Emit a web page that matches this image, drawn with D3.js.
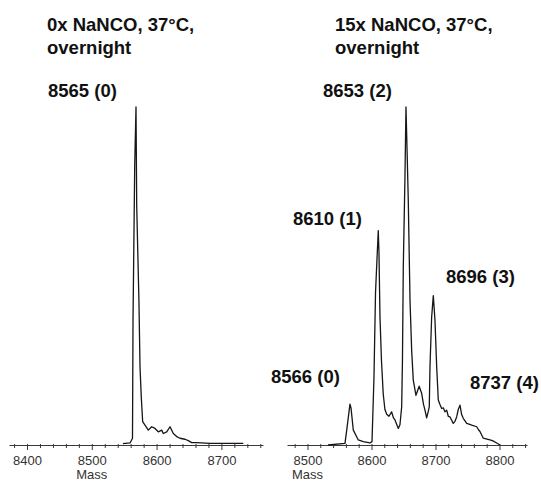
<!DOCTYPE html>
<html>
<head>
<meta charset="utf-8">
<script src="https://cdn.jsdelivr.net/npm/d3@7"></script>
<style>
  html, body { margin: 0; padding: 0; background: #fff; }
  svg { display: block; }
  text { font-family: "Liberation Sans", Arial, sans-serif; }
</style>
</head>
<body>
<svg id="chart" width="541" height="481"></svg>
<script>
// ---------- DATA ----------
const leftTitle = ["0x NaNCO, 37\u00B0C,", "overnight"];
const rightTitle = ["15x NaNCO, 37\u00B0C,", "overnight"];
const axisLabel = "Mass";

const leftTicks = [8400, 8500, 8600, 8700];
const rightTicks = [8500, 8600, 8700, 8800];

const leftMass = [8548, 8559, 8562.8, 8563.6, 8566.2, 8568.2, 8569.3, 8572.8, 8574.4, 8576.4,
  8578.5, 8582.1, 8587.2, 8592.4, 8597.5, 8602.6, 8607.9, 8610.3, 8615.6, 8620.7,
  8625.8, 8631, 8636.1, 8643.8, 8648.9, 8654.2, 8661.9, 8682.4, 8733.8];
const leftIntensity = [0.4, 0.6, 2, 37, 82.6, 100, 70.8, 41.9, 23, 14,
  6.9, 5.9, 4.4, 5.4, 4.9, 3.9, 4.4, 3.4, 3.9, 5.4,
  3.4, 2.5, 2.0, 1.7, 1.3, 0.7, 0.7, 0.5, 0.5];

const rightMass = [8532, 8558.6, 8561.7, 8566.4, 8568, 8571.6, 8579.4, 8587.2, 8597.7, 8600.8,
  8603.9, 8606.3, 8608.6, 8610.6, 8611.7, 8613.3, 8615.6, 8618.4, 8621, 8623.8,
  8627.3, 8631.5, 8634.4, 8636.7, 8641.9, 8644.5, 8647.2, 8648.4, 8649.7, 8652.3,
  8653.9, 8655.5, 8657.5, 8660.2, 8662.8, 8665.3, 8669.5, 8671.9, 8674.5, 8678.4,
  8681.3, 8683.6, 8686.2, 8688.8, 8690.3, 8691.4, 8694, 8696.6, 8699.2, 8701.9,
  8704.4, 8707, 8709.7, 8712.2, 8714.8, 8717.5, 8720, 8722.7, 8727.8, 8730.5,
  8733.1, 8735.6, 8738.3, 8740.9, 8743.4, 8748.8, 8752.3, 8756.6, 8764.4, 8767.2,
  8769.5, 8774.7, 8778.9, 8785.2, 8789.8, 8795.6, 8800.8];
const rightIntensity = [0, 0.5, 5, 12.1, 11, 4.4, 1.5, 1.0, 0.6, 1,
  20, 45, 55, 63.4, 57, 37.8, 25, 15, 10.5, 9.1,
  8.5, 9.8, 8, 7.4, 4.9, 6, 11.3, 25, 52.6, 79.1,
  100, 88, 72.3, 42.8, 28, 19.2, 14.7, 16, 17.4, 15.3,
  12, 10.3, 8.0, 10, 11.3, 23.1, 37.8, 44.2, 36.9, 23.1,
  13.3, 12, 10.8, 11, 9.8, 10.3, 8.5, 8.3, 6.4, 7,
  8.3, 10.5, 11.8, 9, 7.9, 6.4, 6.2, 5.9, 5.4, 4.5,
  4, 2, 1.8, 1.5, 1.2, 0.6, 0];

const leftLabels = ["8565 (0)"];
const rightLabels = ["8566 (0)", "8610 (1)", "8653 (2)", "8696 (3)", "8737 (4)"];

// ---------- LAYOUT ----------
const svg = d3.select("#chart");
const baseY = 445;
const y = d3.scaleLinear().domain([0, 100]).range([baseY, 107]);

const panels = [
  { title: leftTitle, titleX: 47, mass: leftMass, inten: leftIntensity, ticks: leftTicks,
    domain: [8372.2, 8764.2], range: [9, 263], axisLabelAt: 8500,
    labels: leftLabels, labelPos: [[48, 97]] },
  { title: rightTitle, titleX: 335, mass: rightMass, inten: rightIntensity, ticks: rightTicks,
    domain: [8468, 8843], range: [287, 527], axisLabelAt: 8500,
    labels: rightLabels, labelPos: [[271, 383], [293, 225], [323, 97], [446, 283], [470, 389]] }
];

const boldFont = "18.5px";

panels.forEach(p => {
  const x = d3.scaleLinear().domain(p.domain).range(p.range);
  const g = svg.append("g");

  // minor + major ticks every 20
  const tickVals = d3.range(Math.ceil(p.domain[0] / 20) * 20, p.domain[1], 20);
  const axis = d3.axisBottom(x).tickValues(tickVals).tickSizeOuter(0)
    .tickFormat(d => p.ticks.includes(d) ? d : "");
  const ag = g.append("g").attr("transform", `translate(0,${baseY})`).call(axis);
  ag.select(".domain").attr("stroke", "#3a3a3a").attr("stroke-width", 1);
  ag.selectAll(".tick line")
    .attr("stroke", "#3a3a3a")
    .attr("y1", -1)
    .attr("y2", d => p.ticks.includes(d) ? 5 : 3);
  ag.selectAll(".tick text")
    .attr("y", 20).attr("dy", 0)
    .attr("fill", "#333")
    .style("font-size", "13px")
    .style("font-family", "'Liberation Sans', Arial, sans-serif");

  g.append("text")
    .attr("x", x(p.axisLabelAt)).attr("y", 479)
    .attr("text-anchor", "middle")
    .attr("fill", "#333")
    .style("font-size", "13px")
    .text(axisLabel);

  // spectrum
  const line = d3.line().x((d, i) => x(p.mass[i])).y((d, i) => y(p.inten[i]));
  g.append("path")
    .datum(p.mass)
    .attr("d", line)
    .attr("fill", "none")
    .attr("stroke", "#161616")
    .attr("stroke-width", 1.3)
    .attr("stroke-linejoin", "round");

  // titles
  p.title.forEach((t, i) => {
    g.append("text")
      .attr("x", p.titleX).attr("y", 31 + i * 23)
      .style("font-size", boldFont).style("font-weight", "bold")
      .attr("fill", "#111")
      .text(t);
  });

  // peak labels
  p.labels.forEach((t, i) => {
    g.append("text")
      .attr("x", p.labelPos[i][0]).attr("y", p.labelPos[i][1])
      .style("font-size", boldFont).style("font-weight", "bold")
      .attr("fill", "#111")
      .text(t);
  });
});
</script>
</body>
</html>
